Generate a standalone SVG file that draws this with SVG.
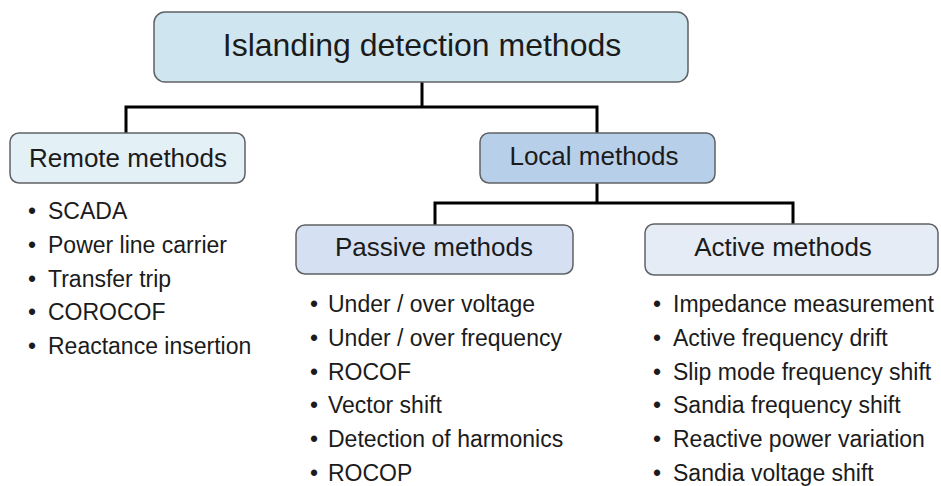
<svg xmlns="http://www.w3.org/2000/svg" width="941" height="486" viewBox="0 0 941 486">
<style>
.box{stroke:#5f6166;stroke-width:1.5}
.t{font-family:"Liberation Sans",Arial,sans-serif;fill:#1b1b1b}
.h{font-size:26px;text-anchor:middle}
.li{font-size:23px}
.c{stroke:#000;stroke-width:3;fill:none}
</style>
<rect width="941" height="486" fill="#fff"/>
<g id="connectors">
<path class="c" d="M422 82V107M126 133V107H597V133M597 183V203M435 225V203H793V224"/>
</g>
<g id="root">
<rect class="box" x="154" y="12" width="534" height="70" rx="11" fill="#cfe6f0"/>
<text class="t" x="422" y="56" font-size="32" text-anchor="middle">Islanding detection methods</text>
</g>
<g id="remote">
<rect class="box" x="10" y="133" width="235" height="50" rx="9" fill="#e3f0f6"/>
<text class="t h" x="128" y="167">Remote methods</text>
</g>
<g id="local">
<rect class="box" x="480" y="133" width="235" height="50" rx="9" fill="#b8cfea"/>
<text class="t h" x="594" y="165">Local methods</text>
</g>
<g id="passive">
<rect class="box" x="296" y="225" width="277" height="49" rx="9" fill="#d5e1f2"/>
<text class="t h" x="434" y="256">Passive methods</text>
</g>
<g id="active">
<rect class="box" x="645" y="224" width="293" height="51" rx="9" fill="#e5ecf6"/>
<text class="t h" x="783" y="256">Active methods</text>
</g>
<g id="remote-list" class="t li">
<text x="28" y="219">•</text><text x="48" y="219">SCADA</text>
<text x="28" y="253">•</text><text x="48" y="253">Power line carrier</text>
<text x="28" y="287">•</text><text x="48" y="287">Transfer trip</text>
<text x="28" y="320">•</text><text x="48" y="320">COROCOF</text>
<text x="28" y="354">•</text><text x="48" y="354">Reactance insertion</text>
</g>
<g id="passive-list" class="t li">
<text x="310" y="312">•</text><text x="328" y="312">Under / over voltage</text>
<text x="310" y="346">•</text><text x="328" y="346">Under / over frequency</text>
<text x="310" y="380">•</text><text x="328" y="380">ROCOF</text>
<text x="310" y="413">•</text><text x="328" y="413">Vector shift</text>
<text x="310" y="447">•</text><text x="328" y="447">Detection of harmonics</text>
<text x="310" y="481">•</text><text x="328" y="481">ROCOP</text>
</g>
<g id="active-list" class="t li">
<text x="653" y="312">•</text><text x="673" y="312">Impedance measurement</text>
<text x="653" y="346">•</text><text x="673" y="346">Active frequency drift</text>
<text x="653" y="380">•</text><text x="673" y="380">Slip mode frequency shift</text>
<text x="653" y="413">•</text><text x="673" y="413">Sandia frequency shift</text>
<text x="653" y="447">•</text><text x="673" y="447">Reactive power variation</text>
<text x="653" y="481">•</text><text x="673" y="481">Sandia voltage shift</text>
</g>
</svg>
